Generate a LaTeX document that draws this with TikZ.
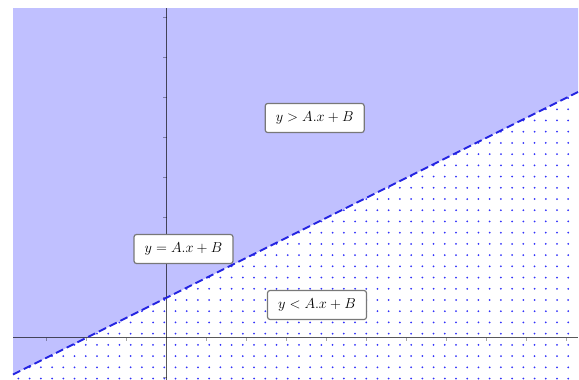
\documentclass[tikz,border=0pt]{standalone}
\definecolor{regionblue}{RGB}{192,192,255}
\definecolor{dotblue}{RGB}{50,50,250}
\definecolor{lineblue}{RGB}{35,35,225}
\definecolor{boxgray}{RGB}{120,120,120}
\begin{document}
\begin{tikzpicture}[x=1pt,y=-1pt,
  axisline/.style={draw=black,draw opacity=0.65,line width=0.9pt},
  tickline/.style={draw=black,draw opacity=0.35,line width=0.9pt},
  lab/.style={draw=boxgray,fill=white,line width=1.2pt,rounded corners=2.5pt,
    minimum width=99pt,minimum height=29pt,inner sep=0pt,
    font=\fontsize{14.4}{17}\selectfont},
  boundary/.style={draw=lineblue,line width=1.8pt,dash pattern=on 8pt off 4pt}]
\useasboundingbox (0,0) rectangle (579,380);
% coordinates of the boundary line y = x/2 + 1 (unit 40 px)
\coordinate (L) at (13,374.5);
\coordinate (R) at (578,92);
% shaded region above the line
\fill[regionblue] (13,8) -- (578,8) -- (R) -- (L) -- cycle;
% dotted region below the line
\begin{scope}
  \clip (L) -- (R) -- (578,380) -- (13,380) -- cycle;
  \foreach \i in {-13,...,36}
    \foreach \j in {-19,...,7}
      \fill[dotblue] ({164.3+11.22*\i},{300+11.22*\j}) circle (1.0);
\end{scope}
% axes
\draw[axisline] (13,337.7) -- (578,337.7);
\draw[axisline] (166.7,8) -- (166.7,380);
\foreach \k in {-3,...,-1,1,2,...,10}
  \draw[tickline] ({166.7+40*\k},337.7) -- ({166.7+40*\k},341);
\foreach \k in {-1,1,2,...,8}
  \draw[tickline] (166.7,{337.7-40*\k}) -- (163.4,{337.7-40*\k});
% boundary line
\draw[boundary] (L) -- (R);
% labels
\node[lab] (gt) at (314.7,118) {$y > A.x + B$};
\node[lab] (eq) at (183.5,249) {$y = A.x + B$};
\node[lab] (lt) at (317,305) {$y < A.x + B$};
\end{tikzpicture}
\end{document}
